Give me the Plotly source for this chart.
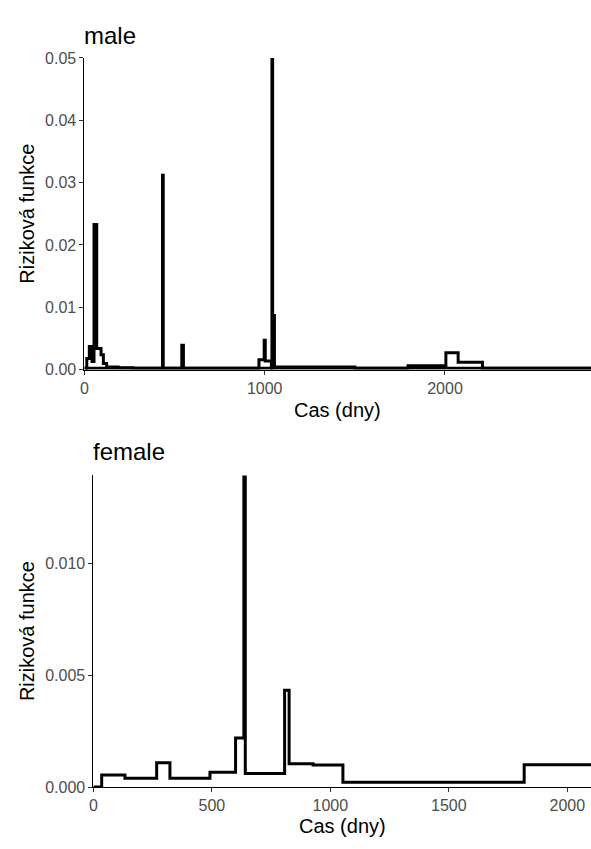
import plotly.graph_objects as go

# Hazard estimates (step functions: value holds from each time until the next one)
male_time = [0, 13, 27, 42, 53, 68, 92, 105, 123, 187, 270, 433, 437, 540, 549,
             968, 997, 1003, 1037, 1040, 1044, 1052, 1054, 1500, 1795, 2005, 2073, 2208, 2810]
male_hazard = [0.0002, 0.0018, 0.0037, 0.0013, 0.0233, 0.0034, 0.0024, 0.0010, 0.0004, 0.0003,
               0.0002, 0.0312, 0.0002, 0.0039, 0.0002, 0.0016, 0.0047, 0.0014, 0.0002, 0.0800,
               0.0004, 0.0087, 0.0004, 0.0002, 0.0006, 0.0027, 0.0012, 0.0002, 0.0002]

# Baseline hazard level drawn underneath the male estimate
male_base_time = [0, 2810]
male_base_hazard = [0.0002, 0.0002]

female_time = [0, 35, 133, 267, 323, 492, 600, 635, 641, 807, 826, 927, 1053, 1818, 2100]
female_hazard = [0.0, 0.00054, 0.00039, 0.00109, 0.00039, 0.00066, 0.00219, 0.0200, 0.00061,
                 0.00433, 0.00104, 0.00099, 0.00022, 0.00100, 0.00100]

male_xticks = [0, 1000, 2000]
male_yticks = [0.00, 0.01, 0.02, 0.03, 0.04, 0.05]
female_xticks = [0, 500, 1000, 1500, 2000]
female_yticks = [0.000, 0.005, 0.010]

W, H = 591, 849
FONT = "Liberation Sans, Arial, Helvetica, sans-serif"
LINE = dict(color="black", width=3, shape="hv")

fig = go.Figure()
fig.add_trace(go.Scatter(x=male_base_time, y=male_base_hazard, mode="lines", line=LINE,
                         xaxis="x", yaxis="y", showlegend=False))
fig.add_trace(go.Scatter(x=male_time, y=male_hazard, mode="lines", line=LINE,
                         xaxis="x", yaxis="y", showlegend=False))
fig.add_trace(go.Scatter(x=female_time, y=female_hazard, mode="lines", line=LINE,
                         xaxis="x2", yaxis="y2", showlegend=False))


def px_x(p):
    return p / W


def px_y(p):
    return 1 - p / H


axis_common = dict(showgrid=False, zeroline=False, showline=True, linecolor="black",
                   linewidth=1, ticks="outside", ticklen=4, tickwidth=1, tickcolor="#333333",
                   tickfont=dict(family=FONT, size=16, color="#4d4d4d"))

# panel pixel boxes: (left, top, bottom)
top_l, top_t, top_b = 81, 51, 369
bot_l, bot_t, bot_b = 90, 477, 795

fig.update_layout(
    width=W, height=H,
    margin=dict(l=0, r=0, t=0, b=0),
    paper_bgcolor="white", plot_bgcolor="white",
    xaxis=dict(domain=[px_x(top_l), 1], anchor="y", range=[0, 2810],
               tickvals=male_xticks, ticktext=[str(v) for v in male_xticks], **axis_common),
    yaxis=dict(domain=[px_y(top_b), px_y(top_t)], anchor="x", range=[0, 0.05],
               tickvals=male_yticks, ticktext=[f"{v:.2f}" for v in male_yticks], **axis_common),
    xaxis2=dict(domain=[px_x(bot_l), 1], anchor="y2", range=[0, 2100],
                tickvals=female_xticks, ticktext=[str(v) for v in female_xticks], **axis_common),
    yaxis2=dict(domain=[px_y(bot_b), px_y(bot_t)], anchor="x2", range=[0, 0.01392],
                tickvals=female_yticks, ticktext=[f"{v:.3f}" for v in female_yticks], **axis_common),
)

title_font = dict(family=FONT, size=24, color="black")
label_font = dict(family=FONT, size=20, color="black")

annotations = [
    dict(text="male", x=px_x(top_l - 2), y=px_y(28), xanchor="left", yanchor="middle",
         font=title_font),
    dict(text="female", x=px_x(bot_l - 2), y=px_y(453), xanchor="left", yanchor="middle",
         font=title_font),
    dict(text="Cas (dny)", x=px_x((top_l + W) / 2), y=px_y(410), xanchor="center",
         yanchor="middle", font=label_font),
    dict(text="Cas (dny)", x=px_x((bot_l + W) / 2), y=px_y(835), xanchor="center",
         yanchor="middle", font=label_font),
    dict(text="Riziková funkce", x=px_x(23), y=px_y((top_t + top_b) / 2), textangle=-90,
         xanchor="center", yanchor="middle", font=label_font),
    dict(text="Riziková funkce", x=px_x(23), y=px_y((bot_t + bot_b) / 2), textangle=-90,
         xanchor="center", yanchor="middle", font=label_font),
]
for a in annotations:
    a.update(xref="paper", yref="paper", showarrow=False)
fig.update_layout(annotations=annotations)

fig.write_html("out.html")
